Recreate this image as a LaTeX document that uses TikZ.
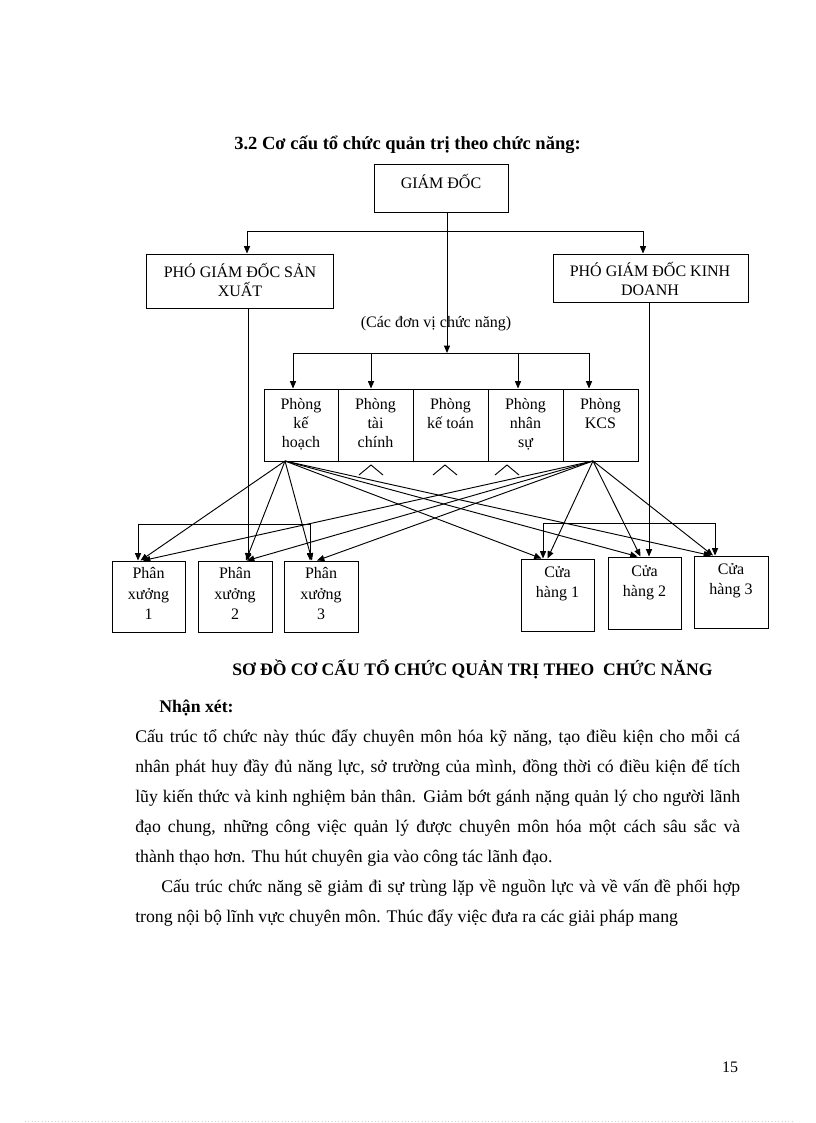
\documentclass[tikz,border=0pt]{standalone}
\usepackage{fontspec}
\setmainfont{Liberation Serif}
\usetikzlibrary{arrows.meta,fit,calc}
\begin{document}
\begin{tikzpicture}[x=0.75pt,y=-0.75pt,
  box/.style={draw,line width=0.7pt,inner sep=0pt},
  lbl/.style={font=\fontsize{12}{14.3}\selectfont,align=center,inner sep=0pt},
  lblt/.style={lbl,anchor=north},
  lblw/.style={font=\fontsize{12}{15.4}\selectfont,align=center,inner sep=0pt,anchor=north},
  ln/.style={line width=0.7pt},
  arr/.style={line width=0.7pt,-{Triangle[length=5.5pt,width=4.5pt]}},
  body/.style={font=\fontsize{13.3}{15}\selectfont,inner sep=0pt,anchor=base west}]
\useasboundingbox (0,0) rectangle (816,1123);

% title
\node[anchor=base west,inner sep=0pt,font=\bfseries\fontsize{13.9}{16}\selectfont] (title) at (234,150) {3.2 Cơ cấu tổ chức quản trị theo chức năng:};

% boxes
\node[box,fit={(374,164)(508,212)}] (gd) {};
\node[box,fit={(146,254)(333,308)}] (pgdsx) {};
\node[box,fit={(553,254)(748,302)}] (pgdkd) {};
\node[box,fit={(264,389)(338,461)}] (kh) {};
\node[box,fit={(338,389)(413,461)}] (tc) {};
\node[box,fit={(413,389)(488,461)}] (kt) {};
\node[box,fit={(488,389)(563,461)}] (ns) {};
\node[box,fit={(563,389)(638,461)}] (kcs) {};
\node[box,fit={(112,561)(185,632)}] (px1) {};
\node[box,fit={(198,561)(272,632)}] (px2) {};
\node[box,fit={(284,561)(358,632)}] (px3) {};
\node[box,fit={(521,559)(594,631)}] (ch1) {};
\node[box,fit={(608,557)(681,629)}] (ch2) {};
\node[box,fit={(694,556)(768,628)}] (ch3) {};

% box texts
\node[lbl] (gdT) at (441,181) {GIÁM ĐỐC};
\node[lbl] (sxT) at (240,280) {PHÓ GIÁM ĐỐC SẢN\\XUẤT};
\node[lbl] (kdT) at (650,279) {PHÓ GIÁM ĐỐC KINH\\DOANH};
\node[lbl] (dvT) at (436,324) {(Các đơn vị chức năng)};
\node[lblt] (khT) at (301,395.5) {\strut Phòng\\kế\\hoạch};
\node[lblt] (tcT) at (375.5,395.5) {\strut Phòng\\tài\\chính};
\node[lblt] (ktT) at (450.5,395.5) {\strut Phòng\\kế toán};
\node[lblt] (nsT) at (525.5,395.5) {\strut Phòng\\nhân\\sự};
\node[lblt] (kcsT) at (600.5,395.5) {\strut Phòng\\KCS};
\node[lblw] (px1T) at (148.5,564) {\strut Phân\\xưởng\\1};
\node[lblw] (px2T) at (235,564) {\strut Phân\\xưởng\\2};
\node[lblw] (px3T) at (321,564) {\strut Phân\\xưởng\\3};
\node[lblw] (ch1T) at (557.5,562.6) {\strut Cửa\\hàng 1};
\node[lblw] (ch2T) at (644.5,561.6) {\strut Cửa\\hàng 2};
\node[lblw] (ch3T) at (731,559.6) {\strut Cửa\\hàng 3};

% director to deputies
\coordinate (j1) at (447,231);
\coordinate (j1L) at (247,231);
\coordinate (j1R) at (643,231);
\coordinate (dvBus) at (447,353);
\draw[ln] (j1L) -- (j1R);
\draw[arr] (j1L) -- (pgdsx.north -| j1L);
\draw[arr] (j1R) -- (pgdkd.north -| j1R);
\draw[arr] (gd.south -| j1) -- (dvBus);

% functional departments bus
\coordinate (p1) at (293,353);
\coordinate (p2) at (371,353);
\coordinate (p4) at (518,353);
\coordinate (p5) at (589,353);
\draw[ln] (p1) -- (p5);
\draw[arr] (p1) -- (kh.north -| p1);
\draw[arr] (p2) -- (tc.north -| p2);
\draw[arr] (p4) -- (ns.north -| p4);
\draw[arr] (p5) -- (kcs.north -| p5);

% carets
\draw[ln] (359,475) -- (371,465) -- (383,475);
\draw[ln] (433,475) -- (445,465) -- (457,475);
\draw[ln] (495,475) -- (507,465) -- (519,475);

% production deputy
\coordinate (sxX) at (248,524);
\coordinate (x1) at (138,524);
\coordinate (x3) at (310,524);
\draw[arr] (pgdsx.south -| sxX) -- (px2.north -| sxX);
\draw[arr] (sxX) -| (px1.north -| x1);
\draw[arr] (sxX) -| (px3.north -| x3);

% business deputy
\coordinate (kdX) at (649,523);
\coordinate (c1) at (543,523);
\coordinate (c3) at (715,523);
\draw[arr] (pgdkd.south -| kdX) -- (ch2.north -| kdX);
\draw[arr] (kdX) -| (ch1.north -| c1);
\draw[arr] (kdX) -| (ch3.north -| c3);

% diagonals
\coordinate (khO) at (285,461);
\coordinate (kcsO) at (593,461);
\draw[arr] (khO) -- ($(px1.north)+(-8,0)$);
\draw[arr] (khO) -- ($(px2.north)+(11,0)$);
\draw[arr] (khO) -- ($(px3.north)+(-9,0)$);
\draw[arr] (khO) -- ($(ch1.north)+(-16,0)$);
\draw[arr] (khO) -- ($(ch2.north)+(-7,0)$);
\draw[arr] (khO) -- ($(ch3.north)+(-20,0)$);
\draw[arr] (kcsO) -- ($(px1.north)+(-5.5,0)$);
\draw[arr] (kcsO) -- ($(px2.north)+(12,0)$);
\draw[arr] (kcsO) -- ($(px3.north)+(-4,0)$);
\draw[arr] (kcsO) -- ($(ch1.north)+(-10,0)$);
\draw[arr] (kcsO) -- ($(ch2.north)+(-4,0)$);
\draw[arr] (kcsO) -- ($(ch3.north)+(-18,0)$);

% caption and text
\node[anchor=base west,inner sep=0pt,font=\bfseries\fontsize{13.2}{15}\selectfont] (cap) at (232,675) {SƠ ĐỒ CƠ CẤU TỔ CHỨC QUẢN TRỊ THEO\ \ CHỨC NĂNG};
\node[anchor=base west,inner sep=0pt,font=\bfseries\fontsize{13.3}{15}\selectfont] (nx) at (159,712) {Nhận xét:};
\node[body] (l1) at (135,742) {\makebox[453.75pt][s]{Cấu trúc tổ chức này thúc đẩy chuyên môn hóa kỹ năng, tạo điều kiện cho mỗi cá}};
\node[body] (l2) at (135,772) {\makebox[453.75pt][s]{nhân phát huy đầy đủ năng lực, sở trường của mình, đồng thời có điều kiện để tích}};
\node[body] (l3) at (135,802) {\makebox[453.75pt][s]{lũy kiến thức và kinh nghiệm bản thân. Giảm bớt gánh nặng quản lý cho người lãnh}};
\node[body] (l4) at (135,832) {\makebox[453.75pt][s]{đạo chung, những công việc quản lý được chuyên môn hóa một cách sâu sắc và}};
\node[body] (l5) at (135,862) {thành thạo hơn. Thu hút chuyên gia vào công tác lãnh đạo.};
\node[body] (l6) at (161,892) {\makebox[434.25pt][s]{Cấu trúc chức năng sẽ giảm đi sự trùng lặp về nguồn lực và về vấn đề phối hợp}};
\node[body] (l7) at (135,922) {trong nội bộ lĩnh vực chuyên môn. Thúc đẩy việc đưa ra các giải pháp mang};

% page number and footer
\node[anchor=base,inner sep=0pt,font=\fontsize{12}{14}\selectfont] (pg) at (730,1072) {15};
\draw[gray!35,dotted,line width=0.5pt] (25,1121) -- (792,1121);
\end{tikzpicture}
\end{document}
